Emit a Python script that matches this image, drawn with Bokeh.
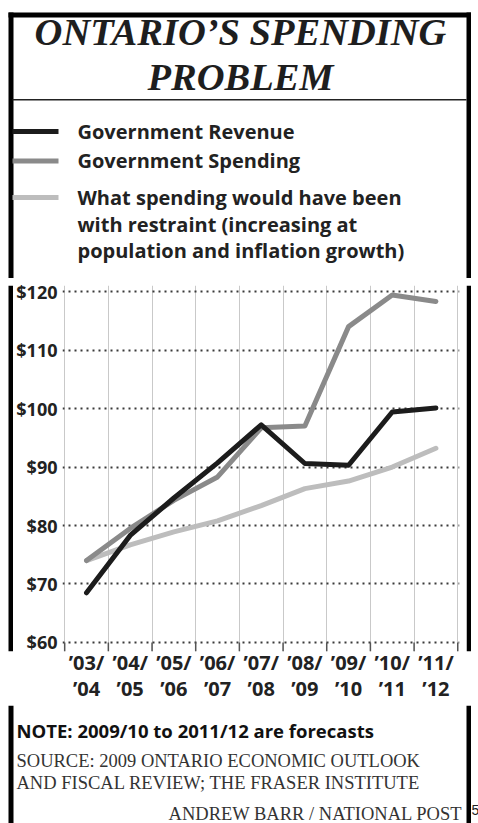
from bokeh.plotting import figure
from bokeh.models import FixedTicker, Range1d, LinearAxis
from bokeh.layouts import column, row
from bokeh.core.properties import value
from bokeh.embed import file_html
from bokeh.resources import INLINE

# ---------------- data ----------------
period_start = ["\u201903/", "\u201904/", "\u201905/", "\u201906/", "\u201907/",
                "\u201908/", "\u201909/", "\u201910/", "\u201911/"]
period_end = ["\u201904", "\u201905", "\u201906", "\u201907", "\u201908",
              "\u201909", "\u201910", "\u201911", "\u201912"]
revenue = [68.5, 78.3, 84.7, 90.7, 97.2, 90.6, 90.3, 99.4, 100.1]
spending = [74.0, 79.5, 84.3, 88.3, 96.7, 97.0, 114.0, 119.4, 118.3]
restraint = [74.0, 76.7, 78.9, 80.8, 83.4, 86.3, 87.6, 90.0, 93.2]
y_ticks = [60, 70, 80, 90, 100, 110, 120]
y_tick_labels = ["$60", "$70", "$80", "$90", "$100", "$110", "$120"]
legend_revenue = "Government Revenue"
legend_spending = "Government Spending"
legend_restraint = ["What spending would have been",
                    "with restraint (increasing at",
                    "population and inflation growth)"]
title_lines = ["ONTARIO\u2019S SPENDING", "PROBLEM"]
note_text = "NOTE: 2009/10 to 2011/12 are forecasts"
source_lines = ["SOURCE: 2009 ONTARIO ECONOMIC OUTLOOK",
                "AND FISCAL REVIEW; THE FRASER INSTITUTE"]
credit_text = "ANDREW BARR / NATIONAL POST"
page_number = "5"

# ---------------- styles ----------------
C_REV = "#1c1c1c"
C_SPD = "#8a8a8a"
C_RES = "#bdbdbd"
C_TXT = "#222222"
SANS = "Open Sans"
SERIF = "Liberation Serif"
# empirical shift of the drawn baseline (fraction of font size)
BASE_SHIFT = {SANS: 0.36, SERIF: 0.41, "Liberation Sans": 0.36}

PAGE_W, PAGE_H = 478, 823
HA = 278          # header height
HB = 427          # chart band height
HC = PAGE_H - HA - HB
FRAME_L, FRAME_R = 8, 470.5
BAR = 5


def canvas(w, h):
    f = figure(width=w, height=h, output_backend="svg", toolbar_location=None,
               x_range=Range1d(0, w), y_range=Range1d(h, 0),
               x_axis_location=None, y_axis_location=None, min_border=0)
    f.grid.visible = False
    f.outline_line_color = None
    f.background_fill_color = "white"
    f.border_fill_color = "white"
    return f


def put_text(f, x, y, text, font, size, style="normal", align="left", color=C_TXT):
    px = float(size.replace("px", ""))
    f.text(x=[x], y=[y - BASE_SHIFT[font] * px], text=[text], text_font=value(font),
           text_font_size=size, text_font_style=style, text_align=align,
           text_baseline="alphabetic", text_color=color)


# ---------------- header ----------------
hdr = canvas(PAGE_W, HA)
hdr.quad(left=[FRAME_L, FRAME_L, 466], right=[FRAME_L + BAR, FRAME_R, FRAME_R],
         top=[12, 12, 12], bottom=[HA, 17, HA], fill_color="black", line_color=None)
put_text(hdr, 240, 47, title_lines[0], SERIF, "38.5px", "bold italic", "center", "#1e1e1e")
put_text(hdr, 240, 92, title_lines[1], SERIF, "38.5px", "bold italic", "center", "#1e1e1e")
hdr.quad(left=[12], right=[466], top=[98.5], bottom=[100], fill_color="#222222", line_color=None)
hdr.quad(left=[12, 12, 12], right=[58, 58, 58], top=[128.5, 158, 194.5],
         bottom=[133.5, 163, 199.5], fill_color=[C_REV, C_SPD, C_RES], line_color=None)
put_text(hdr, 77, 138.5, legend_revenue, SANS, "20px", "bold")
put_text(hdr, 77, 167.5, legend_spending, SANS, "20px", "bold")
for i, t in enumerate(legend_restraint):
    put_text(hdr, 77, 204 + i * 26.7, t, SANS, "20px", "bold")

# ---------------- chart band ----------------
left_strip = canvas(13, HB)
left_strip.quad(left=[FRAME_L], right=[FRAME_L + BAR], top=[0], bottom=[HB],
                fill_color="black", line_color=None)
right_strip = canvas(12, HB)
right_strip.quad(left=[0], right=[FRAME_R - 466], top=[0], bottom=[HB],
                 fill_color="black", line_color=None)

MW = PAGE_W - 13 - 12
BL, BR, BT = 48, 7, 7
FH = 366
BB = HB - BT - FH
X0, X1 = -0.05, 9.04
Y0, Y1 = 58.46, 121.03

p = figure(width=MW, height=HB, output_backend="svg", toolbar_location=None,
           x_range=Range1d(X0, X1), y_range=Range1d(Y0, Y1),
           min_border_left=BL, min_border_right=BR,
           min_border_top=BT, min_border_bottom=BB)
p.outline_line_color = None
p.background_fill_color = "white"
p.border_fill_color = "white"

n = len(period_start)
centers = [i + 0.5 for i in range(n)]
bounds = list(range(n + 1))

p.xgrid.ticker = FixedTicker(ticks=bounds)
p.xgrid.grid_line_color = "#c9c9c9"
p.xgrid.grid_line_width = 1
p.ygrid.ticker = FixedTicker(ticks=y_ticks)
p.ygrid.grid_line_color = "#3a3a3a"
p.ygrid.grid_line_width = 1.8
p.ygrid.grid_line_dash = "2 4"


def style_x(a, labels, standoff):
    a.ticker = FixedTicker(ticks=centers)
    a.major_label_overrides = {c: lab for c, lab in zip(centers, labels)}
    a.axis_line_color = None
    a.major_tick_line_color = None
    a.minor_tick_line_color = None
    a.major_tick_out = 0
    a.major_tick_in = 0
    a.major_label_standoff = standoff
    a.major_label_text_font = SANS
    a.major_label_text_font_style = "bold"
    a.major_label_text_font_size = "20px"
    a.major_label_text_color = C_TXT


style_x(p.xaxis[0], period_start, -3)
x2 = LinearAxis()
style_x(x2, period_end, -4)
p.add_layout(x2, "below")

ya = p.yaxis[0]
ya.ticker = FixedTicker(ticks=y_ticks)
ya.major_label_overrides = {v: lab for v, lab in zip(y_ticks, y_tick_labels)}
ya.axis_line_color = None
ya.major_tick_line_color = None
ya.minor_tick_line_color = None
ya.major_tick_out = 0
ya.major_tick_in = 0
ya.major_label_standoff = 5
ya.major_label_text_font = SANS
ya.major_label_text_font_style = "bold"
ya.major_label_text_font_size = "18px"
ya.major_label_text_color = C_TXT

# dark tick marks below the $60 line at category boundaries
p.segment(x0=bounds, y0=[Y0] * len(bounds), x1=bounds, y1=[y_ticks[0]] * len(bounds),
          line_color="#555555", line_width=1.5)

p.line(centers, restraint, line_color=C_RES, line_width=5, line_join="round", line_cap="round")
p.line(centers, spending, line_color=C_SPD, line_width=5, line_join="round", line_cap="round")
p.line(centers, revenue, line_color=C_REV, line_width=5, line_join="round", line_cap="round")

# ---------------- footer ----------------
ftr = canvas(PAGE_W, HC)
ftr.quad(left=[FRAME_L, 466], right=[FRAME_L + BAR, FRAME_R], top=[0, 0], bottom=[HC, HC],
         fill_color="black", line_color=None)
Y_OFF = HA + HB
put_text(ftr, 16, 737 - Y_OFF, note_text, SANS, "18.5px", "bold", color="#111111")
put_text(ftr, 16, 768 - Y_OFF, source_lines[0], SERIF, "18.5px", color="#333333")
put_text(ftr, 16, 790 - Y_OFF, source_lines[1], SERIF, "18.5px", color="#333333")
put_text(ftr, 462, 821 - Y_OFF, credit_text, SERIF, "18.5px", align="right", color="#333333")
put_text(ftr, 471, 815 - Y_OFF, page_number, "Liberation Sans", "14px", color=C_TXT)

layout = column(hdr, row(left_strip, p, right_strip), ftr)
open("out.html", "w").write(file_html(layout, INLINE))
